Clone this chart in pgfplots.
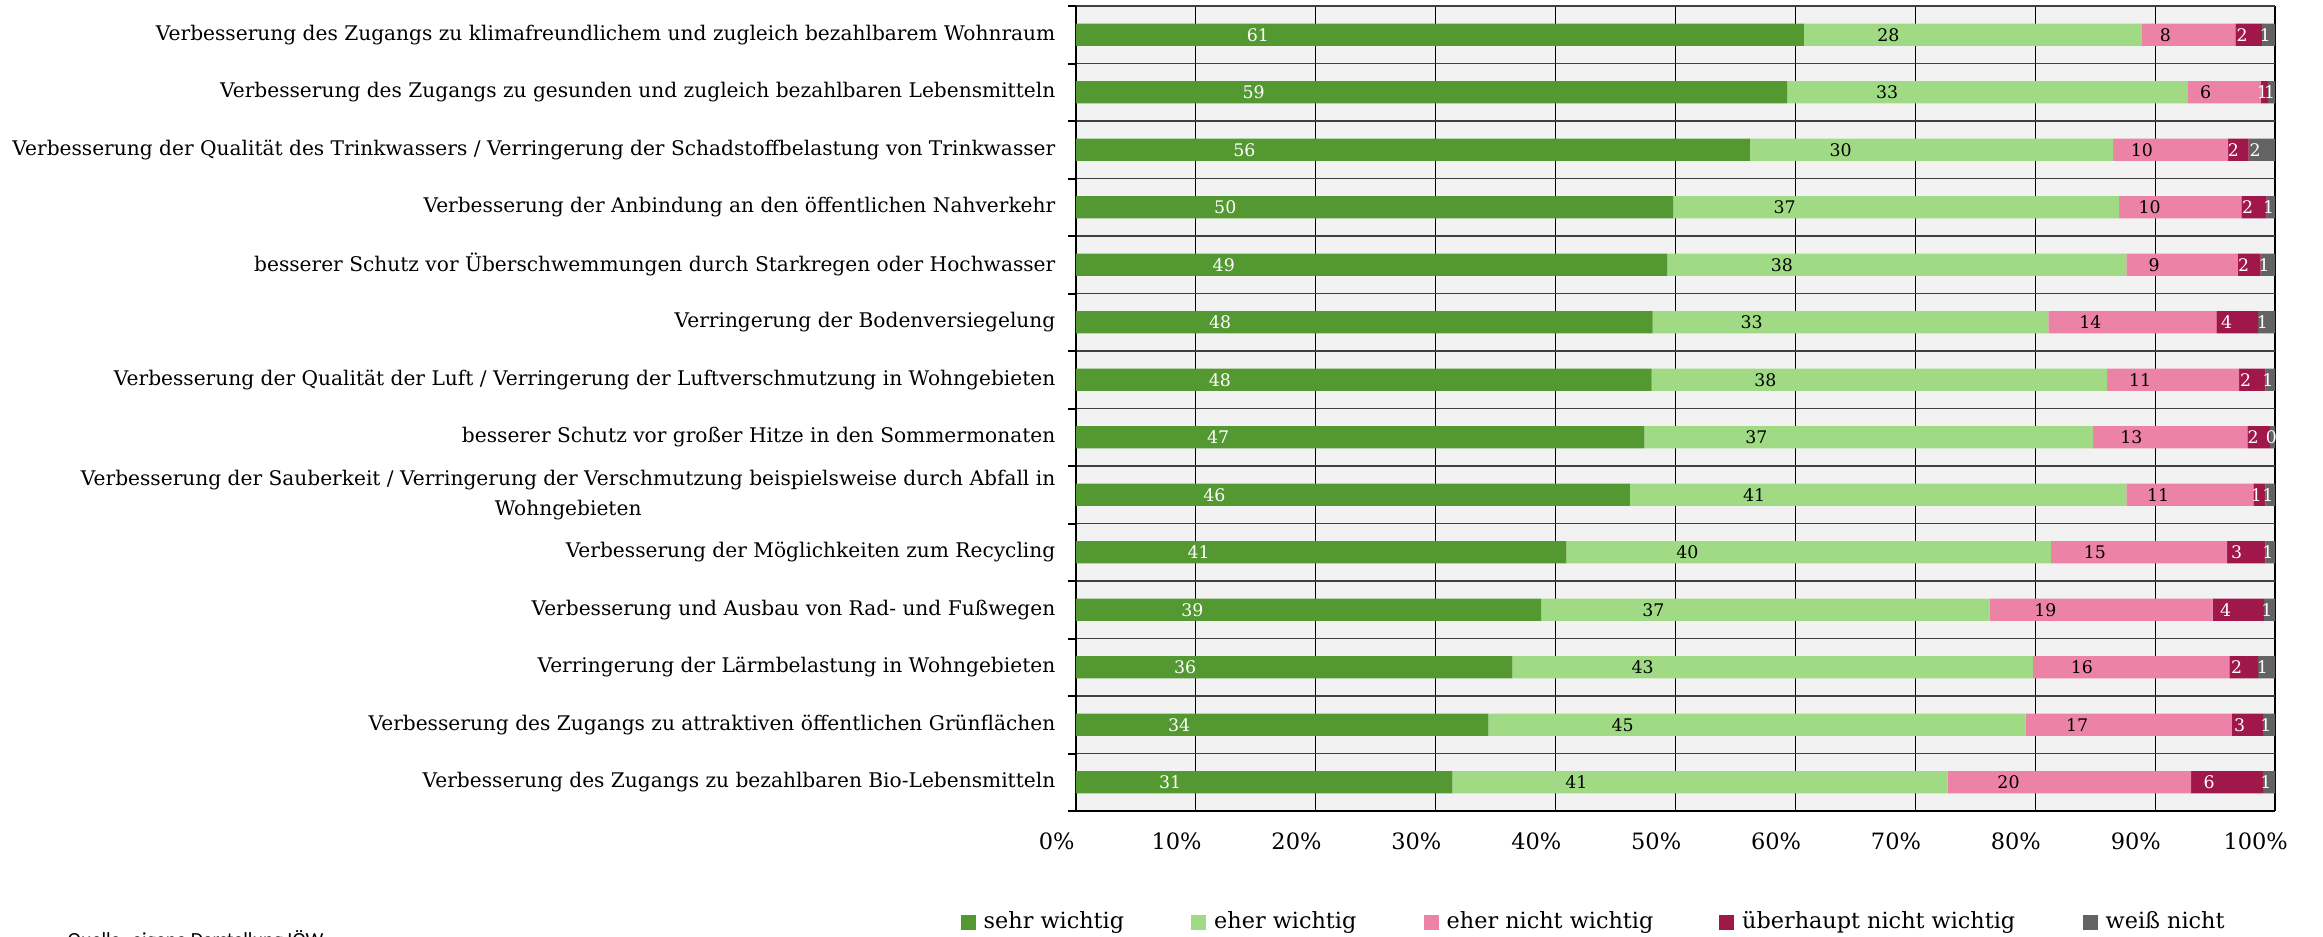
\documentclass[border=0pt]{standalone}
\usepackage{pgfplots}
\pgfplotsset{compat=1.18}
\usepackage{pgfplotstable}
\usepackage{fontspec}
\setmainfont{DejaVu Serif}
\newfontfamily\quellefont{Carlito}
\definecolor{c1}{RGB}{84,152,50}
\definecolor{c2}{RGB}{160,218,132}
\definecolor{c3}{RGB}{237,130,167}
\definecolor{c4}{RGB}{160,24,74}
\definecolor{c5}{RGB}{99,99,99}
\definecolor{plotbg}{RGB}{242,242,242}
\pgfplotsset{sq/.style={legend image code/.code={\fill[##1] (0pt,-2.25pt) rectangle (4.5pt,2.25pt);}}}

\pgfplotstableread{
y v1 l1 v2 l2 v3 l3 v4 l4 v5 l5
0 60.7 61 28.2 28 7.8 8 2.2 2 1.1 1
1 59.3 59 33.4 33 6.1 6 0.6 1 0.6 1
2 56.2 56 30.3 30 9.6 10 1.7 2 2.2 2
3 49.8 50 37.2 37 10.2 10 2.1 2 0.7 1
4 49.3 49 38.3 38 9.3 9 1.9 2 1.2 1
5 48.1 48 33.0 33 14.0 14 3.5 4 1.4 1
6 48.0 48 38.0 38 11.0 11 2.2 2 0.8 1
7 47.4 47 37.4 37 12.9 13 1.9 2 0.4 0
8 46.2 46 41.4 41 10.6 11 1.0 1 0.8 1
9 40.9 41 40.4 40 14.7 15 3.2 3 0.8 1
10 38.8 39 37.4 37 18.6 19 4.3 4 0.9 1
11 36.4 36 43.4 43 16.4 16 2.4 2 1.4 1
12 34.4 34 44.8 45 17.2 17 2.6 3 1.0 1
13 31.4 31 41.3 41 20.3 20 6.0 6 1.0 1
}\data

\begin{document}
\begin{tikzpicture}
\useasboundingbox (0,0) rectangle (696.9pt,281.1pt);
\begin{axis}[
  at={(322.8pt,37.8pt)}, anchor=south west,
  width=359.7pt, height=241.5pt, scale only axis,
  xbar stacked, bar width=0.383,
  xmin=0, xmax=100, ymin=-0.5, ymax=13.5, y dir=reverse,
  axis background/.style={fill=plotbg},
  axis x line*=bottom, axis y line*=left,
  axis line style={black, line width=0.6pt},
  xtick={0,10,...,100},
  xticklabel={\pgfmathprintnumber{\tick}\%},
  /pgf/number format/assume math mode=true,
  xticklabel style={font=\fontsize{6.75}{8}\selectfont, anchor=center, yshift=-9pt, xshift=-5.8pt},
  xmajorgrids, major grid style={black, line width=0.35pt},
  major tick length=0pt,
  ytick={0,...,13},
  minor ytick={-0.5,0.5,...,13.5},
  minor tick length=2.4pt, tick align=outside,
  yminorgrids, minor grid style={black!75, line width=0.35pt},
  tick style={black, line width=0.6pt},
  yticklabels={
    {Verbesserung des Zugangs zu klimafreundlichem und zugleich bezahlbarem Wohnraum},
    {Verbesserung des Zugangs zu gesunden und zugleich bezahlbaren Lebensmitteln},
    {Verbesserung der Qualität des Trinkwassers / Verringerung der Schadstoffbelastung von Trinkwasser},
    {Verbesserung der Anbindung an den öffentlichen Nahverkehr},
    {besserer Schutz vor Überschwemmungen durch Starkregen oder Hochwasser},
    {Verringerung der Bodenversiegelung},
    {Verbesserung der Qualität der Luft / Verringerung der Luftverschmutzung in Wohngebieten},
    {besserer Schutz vor großer Hitze in den Sommermonaten},
    {Verbesserung der Sauberkeit / Verringerung der Verschmutzung beispielsweise durch Abfall in\\Wohngebieten},
    {Verbesserung der Möglichkeiten zum Recycling},
    {Verbesserung und Ausbau von Rad- und Fußwegen},
    {Verringerung der Lärmbelastung in Wohngebieten},
    {Verbesserung des Zugangs zu attraktiven öffentlichen Grünflächen},
    {Verbesserung des Zugangs zu bezahlbaren Bio-Lebensmitteln}},
  yticklabel style={font=\fontsize{6.05}{9}\selectfont, align=center, anchor=east, inner sep=0pt, xshift=-6pt},
  legend columns=5, legend cell align=left,
  legend style={at={(-0.0967,-0.139)}, anchor=west, draw=none, fill=none, inner sep=0pt,
    font=\fontsize{6.7}{8}\selectfont, nodes={inner sep=0pt},
    /tikz/every odd column/.append style={column sep=2.4pt},
    /tikz/every even column/.append style={column sep=0pt}},
  nodes near coords, point meta=explicit symbolic,
  every node near coord/.append style={font=\fontsize{5.2}{6}\selectfont, anchor=center, inner sep=0pt},
]
\addplot[fill=c1, draw=none, sq, visualization depends on={\thisrow{v1}\as\segw},
  every node near coord/.append style={text=white, xshift={-0.89925pt*\segw}}]
  table[x=v1, y=y, meta=l1]{\data};
\addplot[fill=c2, draw=none, sq, visualization depends on={\thisrow{v2}\as\segw},
  every node near coord/.append style={text=black, xshift={-0.89925pt*\segw}}]
  table[x=v2, y=y, meta=l2]{\data};
\addplot[fill=c3, draw=none, sq, visualization depends on={\thisrow{v3}\as\segw},
  every node near coord/.append style={text=black, xshift={-0.89925pt*\segw}}]
  table[x=v3, y=y, meta=l3]{\data};
\addplot[fill=c4, draw=none, sq, visualization depends on={\thisrow{v4}\as\segw},
  every node near coord/.append style={text=white, xshift={-0.89925pt*\segw}}]
  table[x=v4, y=y, meta=l4]{\data};
\addplot[fill=c5, draw=none, sq, visualization depends on={\thisrow{v5}\as\segw},
  every node near coord/.append style={text=white, xshift={-0.89925pt*\segw}}]
  table[x=v5, y=y, meta=l5]{\data};
\legend{\makebox[62.25pt][l]{sehr wichtig}, \makebox[62.85pt][l]{eher wichtig}, \makebox[81.75pt][l]{eher nicht wichtig}, \makebox[102.15pt][l]{überhaupt nicht wichtig}, weiß nicht}
\end{axis}
\node[anchor=north west, inner sep=0pt, font=\quellefont\fontsize{6}{7}\selectfont] at (20.1pt,2.3pt) {Quelle: eigene Darstellung IÖW};
\end{tikzpicture}
\end{document}
